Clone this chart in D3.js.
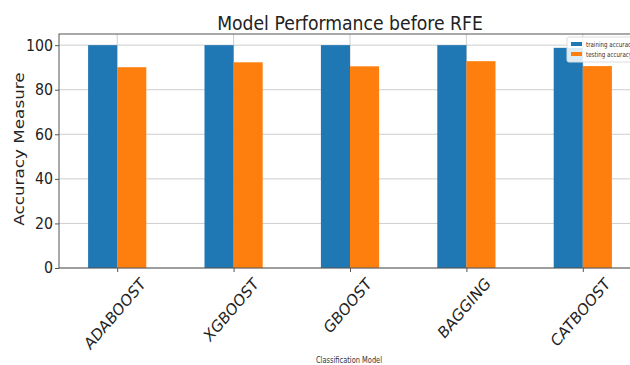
<!DOCTYPE html>
<html>
<head>
<meta charset="utf-8">
<script src="https://cdn.jsdelivr.net/npm/d3@7"></script>
<style>
  html, body { margin: 0; padding: 0; background: #fff; overflow: hidden; }
  svg { display: block; }
</style>
</head>
<body>
<svg id="chart" width="630" height="365"></svg>
<script>
// Model accuracy (%) before recursive feature elimination
const models = ["ADABOOST", "XGBOOST", "GBOOST", "BAGGING", "CATBOOST"];
const trainingAccuracy = [100, 100, 100, 100, 98.8];
const testingAccuracy = [90.1, 92.3, 90.5, 92.8, 90.6];
const seriesNames = ["training accuracy", "testing accuracy"];
const seriesColors = ["#1f77b4", "#ff7f0e"];
const yTicks = [0, 20, 40, 60, 80, 100];

const svg = d3.select("#chart");
const margin = { left: 59, top: 34, right: 641, bottom: 268 };
const squeeze = 0.86;   // text is drawn slightly narrow
const font = "DejaVu Sans";
const ink = "#222";

// Category positions run from -0.5 to n-0.5, like a pandas bar plot
const x = d3.scaleLinear()
  .domain([-0.5, models.length - 0.5])
  .range([margin.left, margin.right]);
const y = d3.scaleLinear().domain([0, 105]).range([margin.bottom, margin.top]);
const barW = 0.25;

// grid
const grid = svg.append("g").attr("stroke", "#c8c8c8").attr("stroke-width", 0.9);
yTicks.forEach(t => {
  grid.append("line").attr("x1", margin.left).attr("x2", margin.right)
    .attr("y1", y(t)).attr("y2", y(t));
});
models.forEach((m, i) => {
  grid.append("line").attr("x1", x(i)).attr("x2", x(i))
    .attr("y1", margin.top).attr("y2", margin.bottom);
});

// bars
const series = [trainingAccuracy, testingAccuracy];
series.forEach((vals, s) => {
  svg.append("g").selectAll("rect").data(vals).join("rect")
    .attr("x", (d, i) => x(i - barW + s * barW))
    .attr("width", x(barW) - x(0))
    .attr("y", d => y(d))
    .attr("height", d => y(0) - y(d))
    .attr("fill", seriesColors[s]);
});

// spines
svg.append("rect")
  .attr("x", margin.left).attr("y", margin.top)
  .attr("width", margin.right - margin.left).attr("height", margin.bottom - margin.top)
  .attr("fill", "none").attr("stroke", "#555").attr("stroke-width", 1);

// y axis ticks (labels drawn separately so they can be narrowed)
const yAxis = svg.append("g")
  .attr("transform", `translate(${margin.left},0)`)
  .call(d3.axisLeft(y).tickValues(yTicks).tickSize(4).tickFormat(""));
yAxis.select(".domain").remove();
yAxis.selectAll(".tick line").attr("stroke", "#555");
yTicks.forEach(t => {
  svg.append("text")
    .attr("transform", `translate(${margin.left - 6},${y(t)}) scale(${squeeze},1)`)
    .attr("text-anchor", "end").attr("dominant-baseline", "central")
    .attr("font-family", font).attr("font-size", 16.5).attr("fill", ink)
    .text(t);
});

// x ticks
const xAxis = svg.append("g")
  .attr("transform", `translate(0,${margin.bottom})`)
  .call(d3.axisBottom(x).tickValues(d3.range(models.length)).tickSize(4).tickFormat(""));
xAxis.select(".domain").remove();
xAxis.selectAll(".tick line").attr("stroke", "#555");

// rotated category labels: box centred under each tick, top just below it
const labelTop = margin.bottom + 6;
const xFont = 16.5;
models.forEach((m, i) => {
  const t = svg.append("text")
    .attr("font-family", font).attr("font-size", xFont).attr("fill", ink)
    .attr("text-anchor", "middle").attr("dominant-baseline", "central")
    .attr("transform", `scale(${squeeze},1) rotate(-45)`)
    .text(m);
  const b = t.node().getBoundingClientRect();
  const dx = x(i) - 2 - (b.left + b.width / 2);
  const dy = labelTop - b.top;
  t.attr("transform", `translate(${dx},${dy}) scale(${squeeze},1) rotate(-45)`);
});

// title and axis titles
svg.append("text")
  .attr("transform", `translate(${(margin.left + margin.right) / 2},29.5) scale(${squeeze + 0.02},1)`)
  .attr("text-anchor", "middle")
  .attr("font-family", font).attr("font-size", 19.6).attr("fill", ink)
  .text("Model Performance before RFE");

svg.append("text")
  .attr("transform", `translate(24,${(margin.top + margin.bottom) / 2 - 2}) scale(${squeeze},1) rotate(-90)`)
  .attr("text-anchor", "middle")
  .attr("font-family", font).attr("font-size", 16.8).attr("fill", ink)
  .text("Accuracy Measure");

svg.append("text")
  .attr("transform", `translate(349,363) scale(${squeeze},1)`)
  .attr("text-anchor", "middle")
  .attr("font-family", "DejaVu Sans Condensed, DejaVu Sans").attr("font-stretch", "condensed")
  .attr("font-size", 8.6).attr("fill", "#333")
  .text("Classification Model");

// legend
const lg = svg.append("g").attr("transform", "translate(567,37)");
lg.append("rect").attr("width", 80).attr("height", 25).attr("rx", 2)
  .attr("fill", "#fff").attr("fill-opacity", 0.85).attr("stroke", "#ddd");
seriesNames.forEach((n, i) => {
  lg.append("rect").attr("x", 4).attr("y", 5 + i * 10).attr("width", 11).attr("height", 4)
    .attr("fill", seriesColors[i]);
  lg.append("text")
    .attr("transform", `translate(19,${10 + i * 10}) scale(${squeeze},1)`)
    .attr("font-family", "DejaVu Sans Condensed, DejaVu Sans").attr("font-stretch", "condensed")
    .attr("font-size", 7.2).attr("fill", "#333")
    .text(n);
});
</script>
</body>
</html>
